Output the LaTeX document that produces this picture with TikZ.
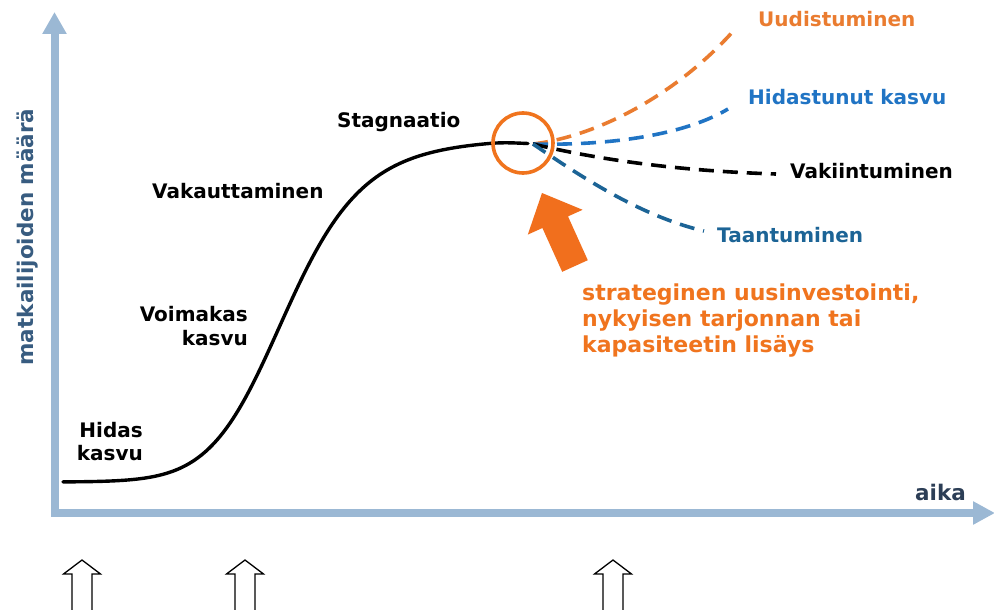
\documentclass[tikz,border=0pt]{standalone}
\usepackage{fontspec}
\setmainfont{DejaVu Sans}
\usetikzlibrary{arrows.meta}

\definecolor{axisblue}{RGB}{155,184,212}
\definecolor{ylabelblue}{RGB}{56,92,128}
\definecolor{timenavy}{RGB}{44,62,86}
\definecolor{accent}{RGB}{240,116,30}
\definecolor{renewal}{RGB}{234,124,48}
\definecolor{slowblue}{RGB}{32,116,196}
\definecolor{declineblue}{RGB}{28,100,150}

\tikzset{
  stagelabel/.style={font=\bfseries\fontsize{20}{24}\selectfont, inner sep=0pt, anchor=base west},
  axislabel/.style={font=\bfseries\fontsize{21.5}{24}\selectfont, inner sep=0pt, anchor=base},
  axisline/.style={draw=axisblue, line width=8pt, line join=miter},
  lifecurve/.style={draw=black, line width=3.4pt, line cap=round, line join=round},
  branch/.style={line width=3.6pt, dash pattern=on 15pt off 9pt},
  hollowarrow/.style={draw=black, line width=1.3pt, fill=white, line join=miter},
}

\begin{document}
\begin{tikzpicture}[x=1pt, y=-1pt]
\useasboundingbox (0,0) rectangle (994,610);
\fill[white] (0,0) rectangle (994,610);

% axes
\coordinate (ytip) at (54.5,12);
\coordinate (origin) at (54.5,513);
\coordinate (xtip) at (995,513);
\draw[axisline, {Triangle[length=22pt,width=23pt]}-{Triangle[length=22pt,width=22pt]}]
  (ytip) -- (origin) -- (xtip);

\node[axislabel, text=ylabelblue, rotate=90] (ylabel) at (33,237) {matkailijoiden määrä};
\node[axislabel, text=timenavy, anchor=base west] (xlabel) at (915,500) {aika};

% life-cycle curve: an S-shaped growth curve levelling off at the peak
\coordinate (peak) at (528,143.5);
\draw[lifecurve] plot[domain=63:490, samples=150, smooth]
  (\x, {482 - 344/(1+exp(-(\x-287)/(39+0.05*(\x-287))))})
  .. controls (505,142.2) and (515,143) .. (peak);

% possible futures
\coordinate (fork) at (533,144);
\draw[branch, draw=renewal] (fork) .. controls (600,136) and (680,92) .. (736,28);
\draw[branch, draw=slowblue] (fork) .. controls (620,146) and (690,132) .. (728,109);
\draw[branch, draw=black] (fork) .. controls (600,160) and (680,171) .. (776,174);
\draw[branch, draw=declineblue] (fork) .. controls (580,176) and (640,216) .. (704,231);

% decision point
\node[draw=accent, line width=3.6pt, circle, minimum size=60pt, inner sep=0pt] (point) at (523,143) {};

% investment arrow
\fill[accent!96!red] (542,193) -- (582.6,209.8) -- (568,216.4) -- (587.8,260.2)
  -- (562.2,271.8) -- (542.4,228) -- (527.8,234.6) -- cycle;

% stage labels
\node[stagelabel] (stag) at (337,128) {Stagnaatio};
\node[stagelabel] (vak) at (152,198) {Vakauttaminen};
\node[stagelabel, anchor=base east, align=right] (voim) at (248,345) {Voimakas\\kasvu};
\node[stagelabel, anchor=base east, align=right, font=\bfseries\fontsize{20}{23}\selectfont] (hid) at (143,460) {Hidas\\kasvu};

% outcome labels
\node[stagelabel, text=renewal] (uud) at (758,27) {Uudistuminen};
\node[stagelabel, text=slowblue] (hk) at (748,105) {Hidastunut kasvu};
\node[stagelabel, text=black] (vakiin) at (790,178) {Vakiintuminen};
\node[stagelabel, text=declineblue] (taan) at (717,242) {Taantuminen};

\node[stagelabel, text=accent, align=left, font=\bfseries\fontsize{22}{26}\selectfont] (invest) at (582,352)
  {strateginen uusinvestointi,\\nykyisen tarjonnan tai\\kapasiteetin lisäys};

% period markers below the time axis
\foreach \cx/\nm in {82/m1, 245/m2, 613/m3} {
  \coordinate (\nm) at (\cx,560);
  \draw[hollowarrow] (\cx-10,614) -- (\cx-10,574) -- (\cx-18.5,574) -- (\nm)
    -- (\cx+18.5,574) -- (\cx+10,574) -- (\cx+10,614);
}
\end{tikzpicture}
\end{document}
